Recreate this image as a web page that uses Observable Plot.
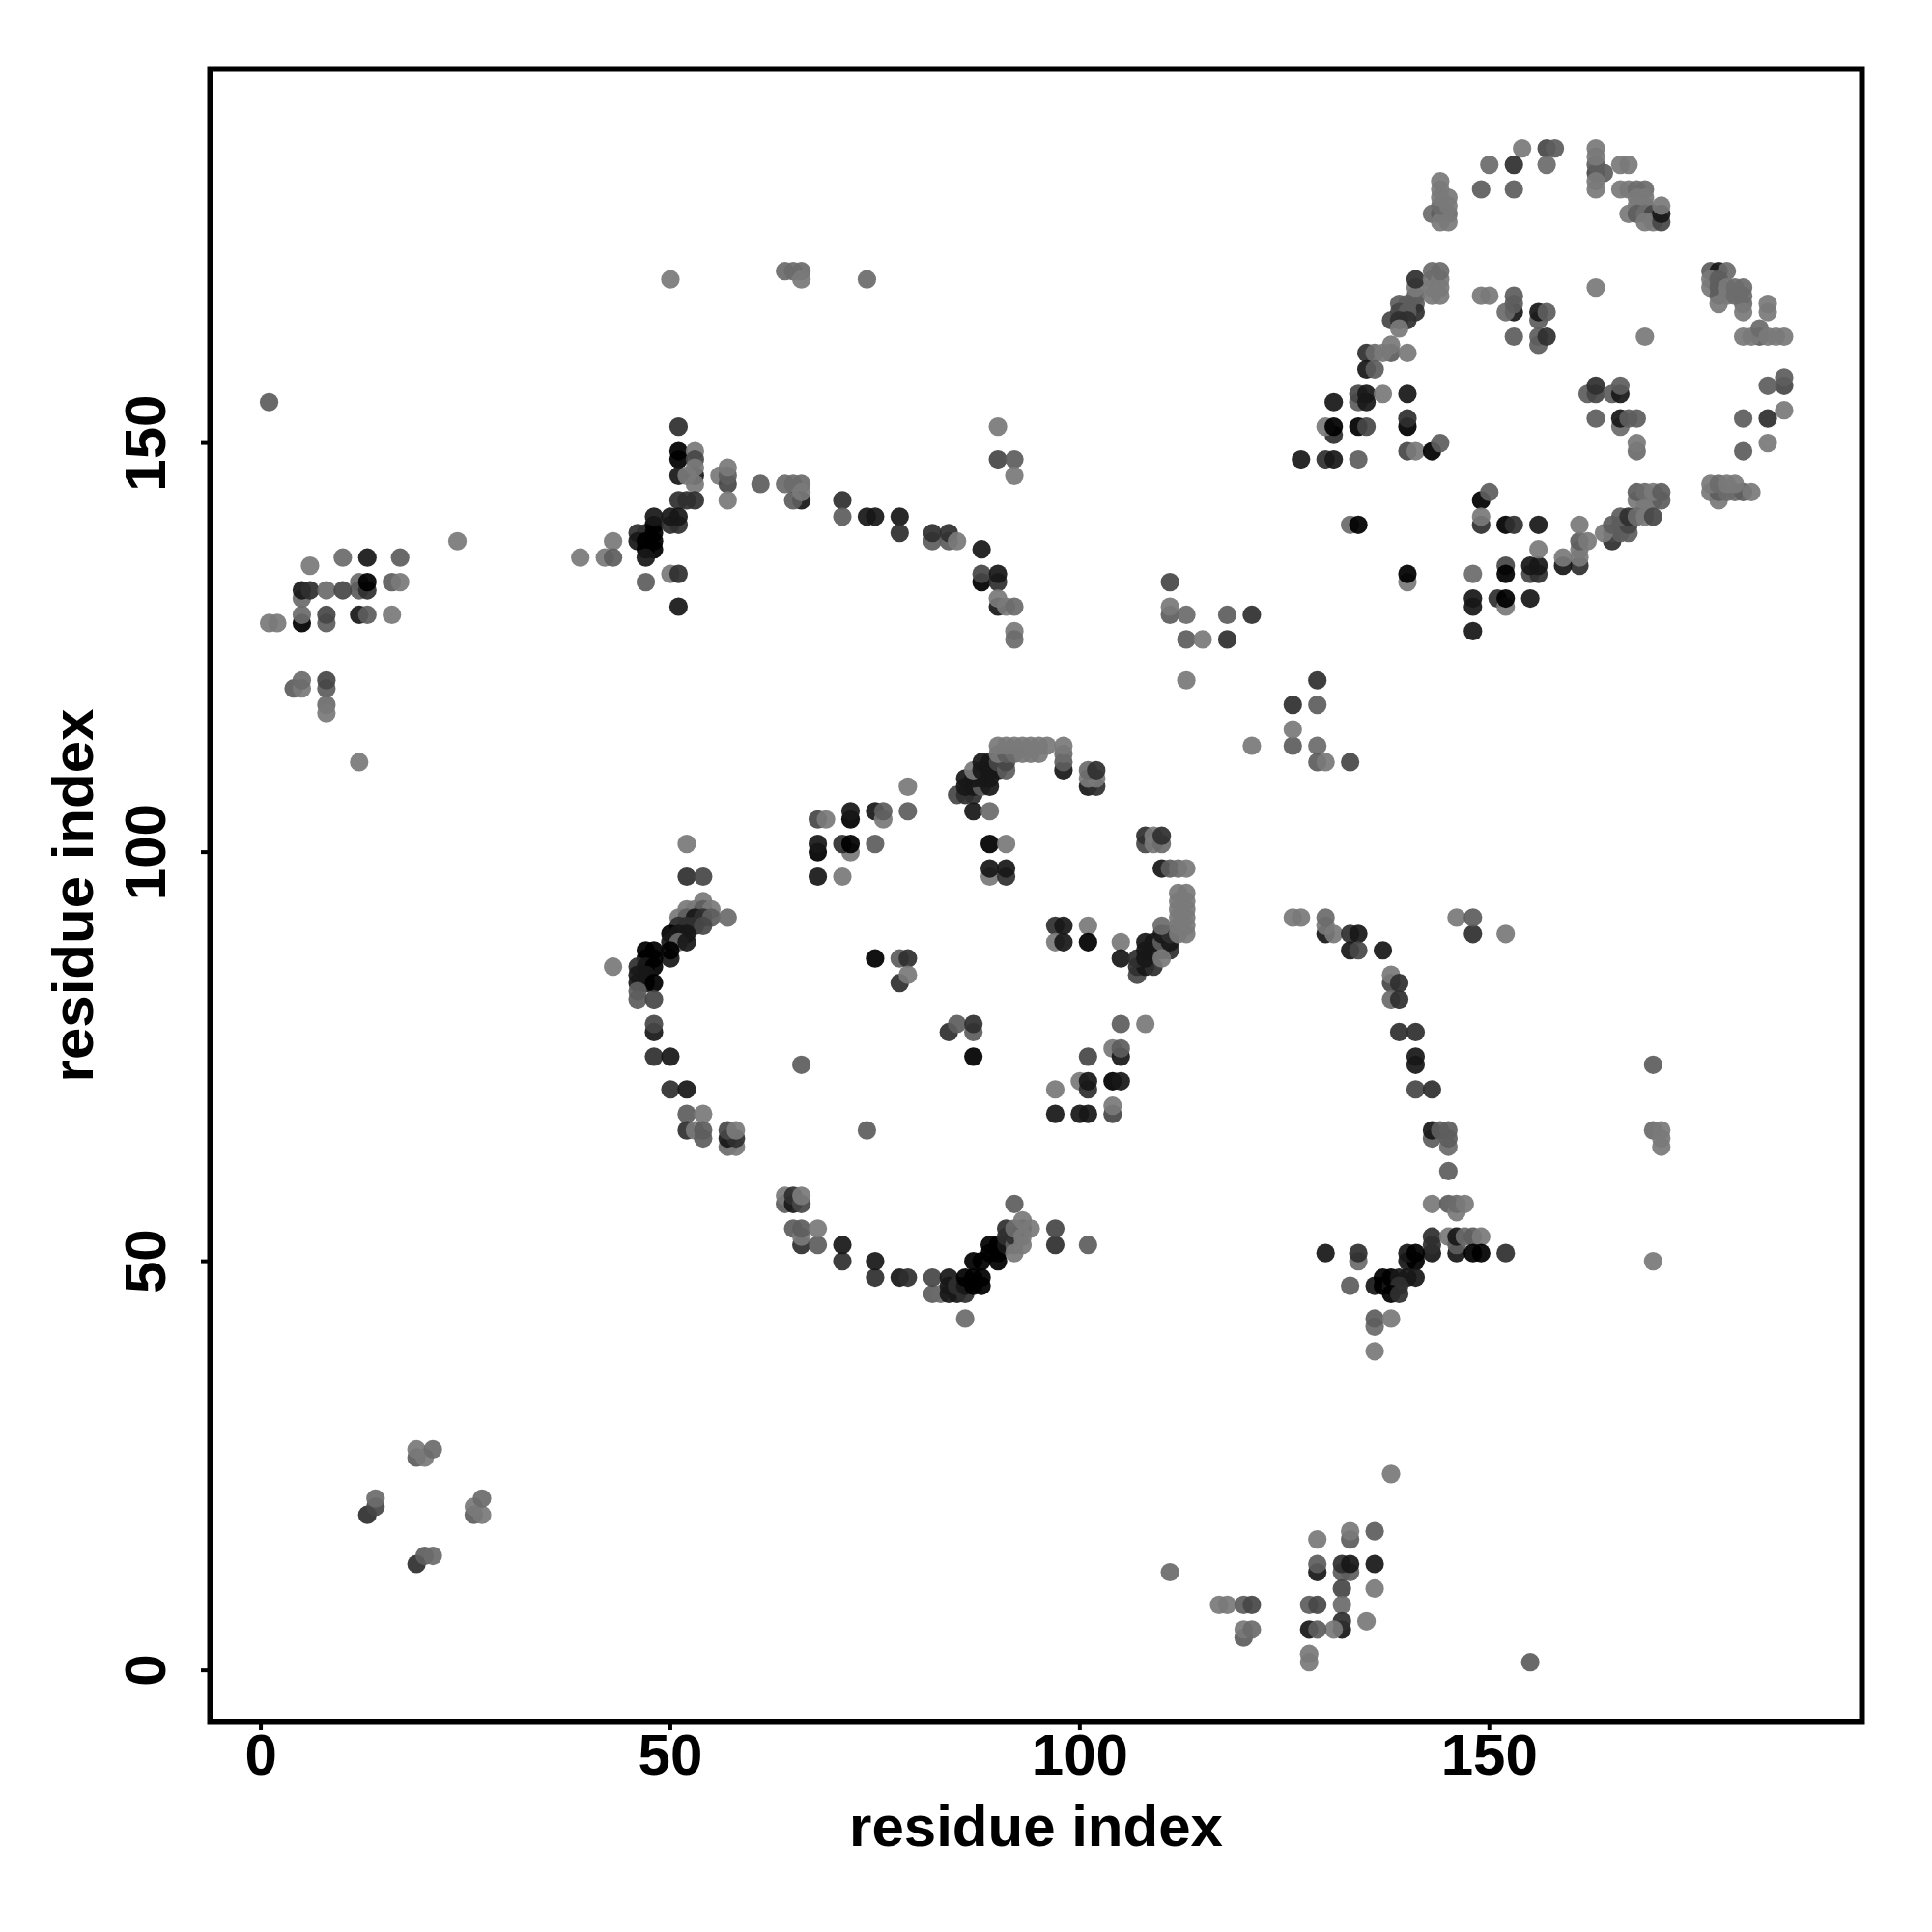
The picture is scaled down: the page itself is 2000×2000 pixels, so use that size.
<!DOCTYPE html>
<html>
<head>
<meta charset="utf-8">
<script src="https://cdn.jsdelivr.net/npm/d3@7"></script>
<script src="https://cdn.jsdelivr.net/npm/@observablehq/plot@0.6"></script>
<style>html,body{margin:0;padding:0;background:#fff}svg{display:block}</style>
</head>
<body>
<div id="chart"></div>
<script>
// [residue x, residue y, contact strength 0 (weak) .. 6 (strong)]
const topLeftCluster = [[1,155,2],[24,138,0],[6,135,0],[10,136,1],[13,136,5],[17,136,2],[12,133,1],[12,132,2],[13,132,4],[13,133,6],[16,133,2],[17,133,0],[5,131,1],[5,132,5],[6,132,4],[8,132,1],[10,132,3],[5,128,6],[5,129,1],[8,128,2],[8,129,3],[12,129,5],[13,129,2],[16,129,0],[1,128,0],[2,128,0],[4,120,2],[5,120,0],[5,121,1],[8,120,2],[8,121,3],[8,118,1],[8,117,0],[12,111,0]];
const topMiddleCluster = [[50,170,0],[64,171,1],[65,171,1],[66,171,1],[66,170,0],[74,170,1],[51,152,4],[90,152,0],[51,149,6],[53,149,0],[51,148,6],[53,148,3],[51,146,5],[53,146,5],[52,146,0],[53,147,0],[53,145,0],[90,148,3],[92,148,2],[92,146,0],[51,143,4],[52,143,4],[53,143,4],[56,146,0],[57,145,3],[57,146,2],[57,147,0],[57,143,0],[61,145,2],[64,145,1],[65,145,1],[66,145,1],[66,143,5],[65,143,2],[66,144,0],[71,143,4],[71,141,2],[74,141,5],[75,141,5],[78,141,5],[78,139,4],[82,138,2],[82,139,4],[84,138,2],[84,139,4],[85,138,0],[88,137,5],[88,133,6],[88,134,3],[90,133,4],[90,134,5],[90,130,5],[90,131,0],[91,130,0],[92,130,1],[92,127,0],[92,126,1],[39,136,0],[43,138,0],[42,136,0],[43,136,2],[50,134,0],[51,134,4],[47,133,2],[51,130,5],[46,139,4],[47,139,4],[46,138,5],[47,138,6],[48,138,6],[47,137,6],[48,137,6],[47,136,5],[48,139,6],[48,140,6],[48,141,5],[50,140,4],[51,140,4],[50,141,5],[51,141,5]];
const upperRightOuter = [[154,186,0],[157,186,3],[158,186,2],[150,184,1],[153,184,4],[157,184,1],[149,181,2],[153,181,2],[163,183,3],[163,184,2],[163,185,0],[163,186,0],[164,183,2],[163,182,0],[163,181,0],[166,184,0],[167,184,0],[166,181,0],[167,181,0],[168,181,1],[169,181,1],[168,180,0],[169,180,0],[168,179,0],[169,179,0],[167,178,0],[168,178,2],[169,178,1],[170,178,3],[169,177,0],[170,177,0],[171,177,3],[171,178,5],[171,179,0],[143,178,1],[144,178,2],[145,178,1],[144,177,0],[145,177,0],[144,179,1],[144,180,0],[144,181,0],[144,182,0],[145,179,0],[145,180,0]];
const upperRightArc = [[141,167,2],[141,166,4],[139,167,2],[140,167,2],[139,166,3],[140,166,2],[138,165,3],[139,165,4],[140,165,4],[139,164,0],[141,168,2],[141,169,0],[141,170,4],[143,168,0],[143,169,0],[143,170,0],[143,171,1],[144,168,0],[144,169,0],[144,170,0],[144,171,1],[135,161,4],[136,161,1],[138,161,2],[137,161,0],[138,162,0],[140,161,0],[135,159,5],[136,159,2],[134,155,2],[134,156,3],[135,155,5],[135,156,5],[137,156,0],[140,156,5],[131,155,5],[131,151,4],[130,152,0],[131,152,6],[134,152,6],[135,152,3],[140,152,6],[140,153,4],[140,149,3],[141,149,0],[143,149,6],[144,150,2],[127,148,5],[130,148,4],[131,148,5],[134,148,2]];
const upperRightInner = [[149,168,0],[150,168,0],[153,166,5],[152,166,1],[153,167,2],[153,168,2],[156,165,2],[156,166,5],[157,166,2],[153,163,2],[156,162,2],[156,163,2],[157,163,4],[163,169,0],[169,163,0],[162,156,2],[163,156,3],[163,157,4],[165,156,2],[166,156,5],[166,157,2],[163,153,2],[166,152,1],[166,153,5],[167,153,2],[168,153,2],[168,149,1],[168,150,0]];
const upperRightEdge = [[177,171,2],[178,171,5],[179,171,1],[177,170,0],[177,169,0],[178,170,2],[178,169,2],[178,168,2],[178,167,0],[179,169,0],[179,168,0],[180,169,1],[181,169,1],[180,168,1],[181,168,1],[181,167,1],[181,166,0],[184,167,0],[184,166,0],[183,163,2],[181,163,0],[182,163,0],[183,164,1],[184,163,0],[185,163,0],[186,163,0],[186,157,3],[186,158,2],[184,157,2],[186,154,0],[181,153,2],[184,153,4],[184,150,0],[181,149,2]];
const upperRightLower = [[178,143,0],[177,144,0],[178,144,2],[179,144,1],[180,144,1],[181,144,2],[182,144,0],[177,145,0],[178,145,1],[179,145,0],[180,145,0],[168,143,0],[169,143,0],[170,143,0],[171,143,2],[168,144,2],[169,144,1],[170,144,0],[171,144,2],[169,142,0],[165,138,4],[165,139,3],[166,139,2],[167,139,2],[164,139,0],[165,140,2],[166,140,2],[167,140,3],[166,141,2],[167,141,4],[168,141,1],[169,141,0],[170,141,3],[161,135,4],[161,136,0],[161,137,0],[161,138,2],[162,138,0],[161,140,0],[159,135,5],[159,136,0],[155,134,3],[156,134,4],[155,135,5],[156,135,5],[156,137,0],[152,135,3],[152,134,6],[148,134,1],[148,127,5],[148,130,5],[148,131,5],[151,131,4],[152,130,0],[152,131,6],[155,131,5],[149,143,6],[150,144,2],[149,140,4],[149,141,0],[152,140,6],[153,140,4],[156,140,5],[133,140,1],[134,140,6],[140,133,0],[140,134,6]];
const centralUpper = [[52,101,0],[52,97,4],[54,97,3],[43,86,0],[68,104,3],[69,104,0],[72,104,6],[72,105,5],[75,105,5],[76,104,0],[76,105,2],[79,105,2],[79,108,0],[68,100,6],[68,101,5],[72,100,0],[71,101,4],[72,101,6],[75,101,2],[68,97,5],[71,97,0],[75,87,6],[78,87,2],[79,87,4],[78,84,4],[79,85,0]];
const centralRing = [[98,110,5],[98,111,2],[98,112,1],[98,113,0],[101,108,5],[102,108,4],[101,109,0],[102,109,0],[101,110,1],[102,110,4],[85,107,3],[86,107,4],[87,107,4],[86,108,5],[87,108,5],[88,108,2],[89,108,5],[86,109,5],[87,109,5],[88,109,5],[89,109,5],[87,110,0],[88,110,5],[89,110,5],[88,111,5],[89,111,5],[90,110,5],[90,111,3],[91,110,2],[91,111,3],[90,112,0],[91,112,2],[92,112,1],[93,112,0],[94,112,0],[95,112,0],[90,113,0],[91,113,0],[92,113,0],[93,113,0],[94,113,0],[95,113,0],[96,113,0],[87,105,5],[89,105,1],[89,101,6],[91,101,0],[89,97,0],[89,98,5],[91,97,4],[91,98,5],[108,101,3],[108,102,4],[109,101,0],[109,102,0],[110,101,1],[110,102,4],[110,98,5],[111,98,2],[112,98,1],[113,98,0],[97,91,4],[98,91,5],[101,91,0],[97,89,0],[98,89,5],[101,89,6],[105,89,0],[105,87,5]];
const centralRight = [[107,85,3],[107,86,4],[108,86,5],[109,86,4],[107,87,4],[108,87,5],[108,88,5],[109,88,5],[110,88,4],[111,88,4],[108,89,5],[109,89,5],[110,89,2],[111,89,5],[110,90,5],[111,90,4],[110,87,0],[110,91,1],[112,90,0],[113,90,0],[112,91,0],[113,91,0],[112,92,0],[113,92,0],[112,93,0],[113,93,0],[112,94,0],[113,94,0],[112,95,0],[113,95,0]];
const leftArc = [[54,94,0],[51,92,0],[52,93,0],[53,93,0],[54,93,2],[55,93,0],[52,92,2],[53,92,5],[54,92,4],[55,92,2],[57,92,1],[51,91,4],[52,91,4],[53,91,4],[54,91,3],[50,90,6],[51,90,5],[52,90,5],[50,89,5],[51,89,1],[52,89,5],[50,87,5],[50,88,6],[47,88,6],[48,88,6],[47,87,6],[48,87,6],[46,86,4],[47,86,5],[48,86,6],[46,85,5],[47,85,5],[46,84,5],[47,84,5],[48,84,6],[46,83,2],[46,82,2],[48,82,3],[48,78,5],[48,79,3],[48,75,4],[50,75,5],[50,71,4],[52,71,5],[52,68,2],[54,68,0],[52,66,4],[53,66,0],[54,65,2],[54,66,2],[57,64,1],[58,64,0],[57,65,5],[58,65,4],[57,66,3],[58,66,0]];
const lowerInner = [[66,74,2],[74,66,2],[84,78,4],[85,79,2],[87,78,2],[87,79,4],[87,75,6],[105,79,2],[108,79,0],[104,76,0],[105,75,5],[105,76,2],[101,75,3],[100,72,0],[101,71,4],[101,72,5],[104,72,6],[105,72,5],[97,71,0],[97,68,5],[100,68,5],[101,68,5],[104,68,3],[104,69,0]];
const lowerArc = [[64,57,2],[64,58,0],[65,57,5],[65,58,4],[66,57,3],[66,58,0],[65,54,2],[66,52,4],[66,53,0],[66,54,2],[68,52,2],[68,54,0],[71,50,4],[71,52,5],[75,48,4],[75,50,5],[78,48,5],[79,48,4],[82,46,2],[83,46,1],[82,48,3],[84,46,5],[84,47,5],[84,48,5],[85,46,5],[85,47,4],[86,46,4],[86,47,5],[86,48,6],[87,47,6],[87,48,6],[88,47,6],[88,48,6],[86,43,1],[87,50,6],[88,50,6],[89,51,6],[89,52,6],[90,50,6],[90,51,6],[90,52,6],[91,52,5],[91,53,4],[91,54,4],[92,52,2],[92,53,4],[93,54,5],[92,51,0],[92,54,1],[93,52,0],[93,53,0],[93,55,0],[94,54,0],[92,57,2],[97,52,4],[97,54,3],[101,52,2]];
const rightArc = [[126,92,0],[127,92,0],[130,90,5],[130,91,0],[130,92,1],[131,90,0],[133,90,4],[134,90,5],[133,88,5],[134,88,3],[137,88,5],[146,92,0],[148,90,4],[148,92,2],[152,90,0],[138,84,3],[138,85,0],[139,84,4],[138,82,1],[139,82,4],[139,78,4],[141,78,4],[141,74,5],[141,75,5],[141,71,3],[143,71,4],[143,65,2],[143,66,5],[144,66,2],[145,64,1],[145,65,2],[145,66,2],[145,61,2]];
const rightLowerCluster = [[143,57,0],[145,57,2],[146,56,0],[146,57,1],[147,57,0],[143,51,5],[143,52,4],[143,53,4],[145,53,0],[146,51,5],[146,52,2],[146,53,5],[147,53,1],[148,53,2],[149,53,0],[148,51,6],[149,51,6],[152,51,4],[130,51,5],[134,50,1],[134,51,4],[140,50,5],[141,50,6],[140,51,5],[141,51,6],[133,47,2],[136,47,5],[137,47,6],[137,48,6],[138,47,5],[138,48,6],[139,48,5],[140,48,5],[141,48,5],[139,47,4],[138,46,6],[139,46,4],[136,42,1],[136,43,2],[138,43,0],[136,39,0],[170,74,2],[170,66,1],[171,64,0],[171,65,0],[171,66,0],[170,50,0]];
const midCluster = [[111,133,3],[111,129,2],[111,130,0],[113,129,1],[118,129,2],[121,129,4],[113,126,2],[115,126,0],[118,126,4],[113,121,0],[129,121,4],[126,118,4],[129,118,2],[126,113,2],[126,115,0],[121,113,0],[129,113,1],[129,111,2],[130,111,0],[133,111,3]];
const bottomLeftCluster = [[19,26,2],[20,26,0],[19,27,0],[21,27,1],[13,19,4],[14,20,3],[14,21,1],[26,19,2],[26,20,0],[27,19,0],[27,21,1],[19,13,4],[20,14,2],[21,14,1]];
const bottomRightCluster = [[138,24,0],[129,16,0],[133,16,2],[133,17,0],[136,17,2],[129,12,5],[129,13,2],[132,12,2],[133,12,2],[132,13,4],[133,13,5],[136,13,5],[111,12,1],[132,10,3],[136,10,0],[117,8,0],[118,8,0],[120,8,2],[121,8,3],[128,8,2],[129,8,3],[132,8,1],[132,5,5],[132,6,4],[135,6,0],[131,5,0],[128,5,5],[129,5,2],[120,4,2],[120,5,0],[121,5,1],[128,1,0],[128,2,0],[155,1,2]];

const axisTicks = [0, 50, 100, 150];
const axisTitle = "residue index";

const contacts = [
  ...topLeftCluster, ...topMiddleCluster, ...upperRightOuter, ...upperRightArc,
  ...upperRightInner, ...upperRightEdge, ...upperRightLower, ...centralUpper,
  ...centralRing, ...centralRight, ...leftArc, ...lowerInner, ...lowerArc,
  ...rightArc, ...rightLowerCluster, ...midCluster, ...bottomLeftCluster, ...bottomRightCluster
].map(([x, y, s]) => ({x, y, s}));

const fontFamily = "'Liberation Sans', Arial, sans-serif";
const chart = Plot.plot({
  width: 2000, height: 2000,
  marginLeft: 217, marginRight: 73, marginTop: 71, marginBottom: 218,
  style: {fontFamily, fontWeight: "bold", background: "#fff", color: "#000"},
  x: {domain: [-6.2, 195.5]},
  y: {domain: [-6.3, 195.7]},
  color: {type: "linear", domain: [0, 2, 6], range: ["#7a7a7a", "#5e5e5e", "#000000"], interpolate: "rgb"},
  marks: [
    Plot.dot(contacts, {x: "x", y: "y", r: 9.6, fill: "s", fillOpacity: 0.93, stroke: "none"}),
    Plot.frame({stroke: "#000", strokeWidth: 6}),
    Plot.axisX({
      ticks: axisTicks, tickFormat: d3.format("d"), tickSize: 9, tickPadding: 3, strokeWidth: 4,
      fontSize: 60, label: axisTitle, labelAnchor: "center", labelArrow: "none", labelOffset: 128
    }),
    Plot.axisY({
      ticks: axisTicks, tickFormat: d3.format("d"), tickSize: 9, tickPadding: 38, strokeWidth: 4,
      tickRotate: -90, fontSize: 60, label: axisTitle, labelAnchor: "center", labelArrow: "none", labelOffset: 164
    })
  ]
});
document.getElementById("chart").append(chart);
</script>
</body>
</html>
